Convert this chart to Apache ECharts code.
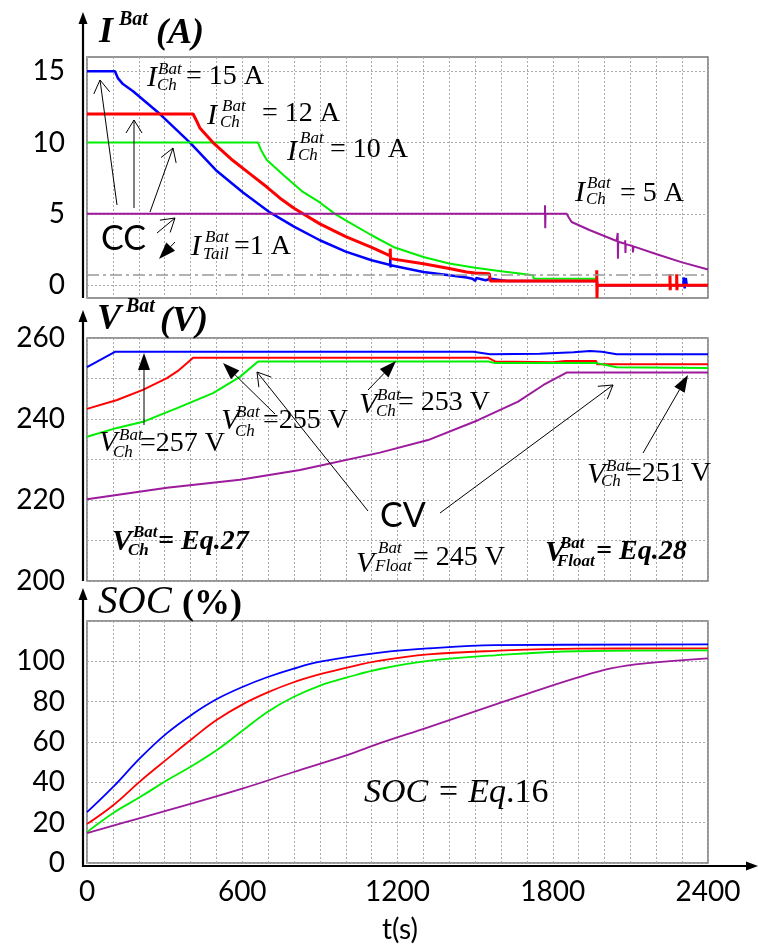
<!DOCTYPE html>
<html>
<head>
<meta charset="utf-8">
<title>Battery charging</title>
<script src="https://cdn.jsdelivr.net/npm/echarts@6.0.0/dist/echarts.min.js"></script>
<style>
  html, body { margin: 0; padding: 0; background: #fff; }
  #main { width: 758px; height: 949px; }
</style>
</head>
<body>
<div id="main"></div>
<script>
// time ticks (s)
var tTicks = [0, 600, 1200, 1800, 2400];

// battery current I (A), [t, value]
var iTicks = [0, 5, 10, 15];
var iTail = 0.7;
var iBlue = [[0,15],[108,15],[120,14.5],[139,14.1],[178,13.6],[282,12.0],[398,10.0],[502,8.0],[603,6.5],[707,5.1],[800,4.1],[900,3.15],[1000,2.35],[1100,1.75],[1172,1.42],[1172,1.86],[1173,1.24],[1174,1.4],[1300,0.93],[1400,0.7],[1467,0.54],[1490,0.45],[1500,0.3],[1505,0.5],[1540,0.35],[1560,0.45],[1600,0.35],[1625,0.3],[1971,0.3],[1972,0],[2305,0],[2306,0.54],[2310,-0.23],[2314,0.5],[2318,0],[2400,0]];
var iGreen = [[0,10],[661,10],[672,9.5],[694,8.8],[760,7.7],[830,6.6],[900,5.8],[958,5.0],[1000,4.55],[1100,3.5],[1184,2.68],[1300,1.98],[1400,1.52],[1500,1.22],[1600,0.98],[1672,0.82],[1724,0.7],[1726,0.47],[1970,0.45],[1970,0.9],[1971,0.02],[2400,0.02]];
var iRed = [[0,12],[410,12],[424,11.5],[437,11.0],[487,10.0],[564,8.74],[630,7.8],[694,6.9],[746,6.1],[800,5.4],[900,4.3],[1000,3.4],[1100,2.65],[1172,2.05],[1172,2.56],[1173,1.86],[1174,2.0],[1300,1.5],[1400,1.17],[1467,0.93],[1500,0.85],[1555,0.8],[1558,0.3],[1970,0.3],[1970,1.05],[1971,-0.9],[1972,0],[2253,0],[2253,0.77],[2254,-0.35],[2255,0],[2279,0],[2279,0.77],[2280,-0.35],[2281,0],[2400,0]];
var iPurple = [[0,5],[1770,5],[1770,5.6],[1771,4.0],[1772,5],[1854,5],[1862,4.75],[1873,4.43],[1944,3.85],[2047,3.1],[2051,3.1],[2051,3.66],[2052,1.86],[2053,3.05],[2080,2.9],[2080,3.15],[2081,2.26],[2082,2.88],[2109,2.75],[2109,2.87],[2110,2.3],[2112,2.72],[2202,2.17],[2300,1.6],[2400,1.1]];

// battery voltage V (V)
var vTicks = [200, 220, 240, 260];
var vBlue = [[0,252.8],[108,256.6],[1493,256.6],[1558,256.0],[1750,256.1],[1880,256.5],[1944,256.8],[1990,256.6],[2047,256.0],[2400,256.0]];
var vRed = [[0,242.5],[116,244.7],[216,247.2],[309,250.1],[350,251.8],[387,253.8],[410,255.1],[1551,255.1],[1577,254.2],[1800,254.0],[1850,254.3],[1968,254.3],[1970,254.6],[1971,253.5],[2400,253.5]];
var vGreen = [[0,235.6],[116,237.8],[216,239.3],[348,242.7],[487,246.4],[591,250.4],[661,254.2],[1551,254.2],[1577,253.8],[1970,253.8],[2047,252.8],[2400,252.6]];
var vPurple = [[0,220.2],[309,223],[591,225],[823,227.4],[1132,231.7],[1318,234.8],[1511,239.7],[1666,244.3],[1764,248.4],[1855,251.5],[2400,251.5]];

// state of charge (%)
var sTicks = [0, 20, 40, 60, 80, 100];
var sBlue = [[0,25.2],[100,37.6],[205,52],[309,64.4],[410,74],[502,81.3],[603,87.4],[696,92.1],[796,96.3],[901,99.8],[1132,104.3],[1318,106.4],[1577,108],[2400,108.4]];
var sRed = [[0,19.3],[100,28.5],[205,40.5],[309,51.5],[410,62],[502,71],[603,78.8],[696,84.5],[796,89.5],[901,93.6],[1005,96.9],[1132,100.3],[1318,103.4],[1577,105.2],[1898,106.3],[2400,106.4]];
var sGreen = [[0,15.3],[100,24.7],[205,32.7],[309,41],[410,48.5],[502,56],[603,65.8],[696,74.8],[796,82.2],[901,88],[1005,92],[1132,96.2],[1318,100.2],[1577,103],[1898,105],[2400,105.4]];
var sPurple = [[0,14.8],[205,22.3],[410,29.7],[603,37],[796,45],[1005,53.5],[1132,59.4],[1318,67.3],[1511,75.7],[1704,84],[1898,92],[2025,96.5],[2157,99],[2400,101.5]];

var cBlue = '#0000ff', cRed = '#ff0000', cGreen = '#00ee00', cPurple = '#9c1a9c';
var serif = '"Liberation Serif", "DejaVu Serif", serif';
var sans = 'Lato, "Noto Sans", sans-serif';

var chart = echarts.init(document.getElementById('main'));

var gridLine = { color: '#a8a8a8', type: [2, 2], width: 1 };
var lbl = { color: '#000', fontFamily: sans, fontSize: 28, formatter: function (v) { return String(v); } };

function xAx(idx, labels) {
    return {
        gridIndex: idx, type: 'value', min: 0, max: 2400, interval: 100,
        axisLine: { show: false }, axisTick: { show: false },
        axisLabel: labels ? Object.assign({ customValues: tTicks, margin: 15 }, lbl) : { show: false },
        splitLine: { show: true, lineStyle: gridLine }
    };
}

function yAx(idx, min, max, interval, ticks) {
    var ax = {
        gridIndex: idx, type: 'value', min: min, max: max,
        axisLine: { show: false },
        axisTick: { show: false },
        axisLabel: Object.assign({ margin: 22, customValues: ticks }, lbl),
        splitLine: { show: true, lineStyle: gridLine }
    };
    if (interval) ax.interval = interval;
    else ax.axisTick.customValues = ticks;
    return ax;
}

function line(name, data, color, width, xi) {
    return {
        name: name, type: 'line', data: data, xAxisIndex: xi, yAxisIndex: xi,
        showSymbol: false, symbol: 'none', smooth: false, silent: true,
        lineStyle: { color: color, width: width }, itemStyle: { color: color }
    };
}

function sline(name, data, color) {
    var s = line(name, data, color, 1.8, 2);
    s.smooth = 0.4;
    return s;
}

// annotation helpers (pixel positions)
var fonts = {
    m: 'italic 30px ' + serif,
    s: 'italic 17px ' + serif,
    r: '28px ' + serif,
    bm: 'bold italic 30px ' + serif,
    bs: 'bold italic 17px ' + serif,
    br: 'bold italic 28px ' + serif,
    tm: 'bold italic 36px ' + serif,
    ts: 'bold italic 20px ' + serif,
    ti: 'italic 39px ' + serif,
    tb: 'bold 36px ' + serif,
    cc: '34px ' + sans,
    ax: '28px ' + sans
};

function txt(x, y, s, f, align) {
    return {
        type: 'text', x: x, y: y, z: 100,
        style: { text: s, font: fonts[f], fill: '#000', align: align || 'left', verticalAlign: 'middle' }
    };
}

function arrow(x1, y1, x2, y2, filled) {
    var dx = x1 - x2, dy = y1 - y2, len = Math.sqrt(dx * dx + dy * dy);
    var ux = dx / len, uy = dy / len;
    var hl = filled ? 17 : 13, hw = filled ? 6 : 8;
    var bx = x2 + ux * hl, by = y2 + uy * hl;
    var w1 = [bx - uy * hw, by + ux * hw], w2 = [bx + uy * hw, by - ux * hw];
    var out = [{ type: 'line', z: 100, shape: { x1: x1, y1: y1, x2: filled ? bx : x2, y2: filled ? by : y2 }, style: { stroke: '#000', lineWidth: 1 } }];
    if (filled) out.push({ type: 'polygon', z: 100, shape: { points: [[x2, y2], w1, w2] }, style: { fill: '#000' } });
    else out.push({ type: 'polyline', z: 100, shape: { points: [w1, [x2, y2], w2] }, style: { stroke: '#000', lineWidth: 1, fill: null } });
    return out;
}

function axisArrow(x1, y1, x2, y2) {
    var dx = x2 - x1, dy = y2 - y1, len = Math.sqrt(dx * dx + dy * dy);
    var ux = dx / len, uy = dy / len;
    var bx = x2 - ux * 12, by = y2 - uy * 12;
    return [
        { type: 'line', z: 90, shape: { x1: x1, y1: y1, x2: bx, y2: by }, style: { stroke: '#000', lineWidth: 2.2 } },
        { type: 'polygon', z: 90, shape: { points: [[x2, y2], [bx - uy * 4.5, by + ux * 4.5], [bx + uy * 4.5, by - ux * 4.5]] }, style: { fill: '#000' } }
    ];
}

var labels = [
    // titles
    txt(99, 33, 'I', 'tm'), txt(119, 20, 'Bat', 'ts'), txt(156, 34, '(A)', 'tm'),
    txt(97, 320, 'V', 'tm'), txt(126, 307, 'Bat', 'ts'), txt(160, 322, '(V)', 'tm'),
    txt(98, 603, 'SOC', 'ti'), txt(182, 605, '(%)', 'tb'),
    // current panel
    txt(147, 78, 'I', 'm'), txt(158, 70, 'Bat', 's'), txt(157, 86, 'Ch', 's'), txt(186, 77, '= 15 A', 'r'),
    txt(207, 116, 'I', 'm'), txt(222, 107, 'Bat', 's'), txt(220, 123, 'Ch', 's'), txt(262, 114, '= 12 A', 'r'),
    txt(287, 152, 'I', 'm'), txt(300, 139, 'Bat', 's'), txt(298, 156, 'Ch', 's'), txt(330, 150, '= 10 A', 'r'),
    txt(575, 193, 'I', 'm'), txt(587, 184, 'Bat', 's'), txt(586, 200, 'Ch', 's'), txt(620, 194, '= 5 A', 'r'),
    txt(191, 247, 'I', 'm'), txt(205, 238, 'Bat', 's'), txt(203, 255, 'Tail', 's'), txt(234, 247, '=1 A', 'r'),
    txt(101, 239, 'CC', 'cc'),
    // voltage panel
    txt(99, 443, 'V', 'm'), txt(119, 436, 'Bat', 's'), txt(113, 453, 'Ch', 's'), txt(140, 444, '=257 V', 'r'),
    txt(221, 421, 'V', 'm'), txt(236, 413, 'Bat', 's'), txt(235, 432, 'Ch', 's'), txt(263, 421, '=255 V', 'r'),
    txt(359, 405, 'V', 'm'), txt(377, 396, 'Bat', 's'), txt(376, 412, 'Ch', 's'), txt(398, 403, '= 253 V', 'r'),
    txt(587, 475, 'V', 'm'), txt(606, 467, 'Bat', 's'), txt(601, 482, 'Ch', 's'), txt(626, 474, '=251 V', 'r'),
    txt(356, 564, 'V', 'm'), txt(378, 549, 'Bat', 's'), txt(375, 567, 'Float', 's'), txt(413, 558, '= 245 V', 'r'),
    txt(112, 542, 'V', 'bm'), txt(133, 533, 'Bat', 'bs'), txt(128, 551, 'Ch', 'bs'), txt(158, 542, '= Eq.27', 'br'),
    txt(545, 553, 'V', 'bm'), txt(560, 544, 'Bat', 'bs'), txt(557, 562, 'Float', 'bs'), txt(596, 552, '= Eq.28', 'br'),
    txt(380, 516, 'CV', 'cc'),
    // soc panel
    {
        type: 'text', x: 364, y: 793, z: 100,
        style: {
            text: '{i|SOC = Eq}{n|.16}', verticalAlign: 'middle', fill: '#000',
            rich: { i: { font: 'italic 34px ' + serif }, n: { font: '34px ' + serif } }
        }
    },
    txt(400, 930, 't(s)', 'ax', 'center')
];

var arrows = []
    .concat(arrow(117, 205, 100, 80, false))
    .concat(arrow(134, 208, 134, 120, false))
    .concat(arrow(150, 212, 173, 148, false))
    .concat(arrow(157, 233, 175, 218, false))
    .concat(arrow(175, 242, 159, 259, true))
    .concat(arrow(144, 425, 144, 353, true))
    .concat(arrow(275, 414, 223, 363, true))
    .concat(arrow(368, 390, 396, 361, true))
    .concat(arrow(643, 453, 688, 375, true))
    .concat(arrow(368, 511, 257, 372, false))
    .concat(arrow(440, 513, 613, 385, false))
    .concat(axisArrow(83, 298, 83, 12))
    .concat(axisArrow(83, 581, 83, 310))
    .concat(axisArrow(83, 867, 83, 588))
    .concat(axisArrow(82, 866, 758, 866));

var tail = line('I blue', iBlue, cBlue, 2.5, 0);
tail.markLine = {
    silent: true, symbol: 'none', label: { show: false },
    lineStyle: { color: '#999', type: [12, 4, 3, 4], width: 1.5 },
    data: [{ yAxis: iTail }]
};

var box = { show: true, borderColor: '#747474', borderWidth: 1.5, backgroundColor: 'transparent' };

var option = {
    animation: false,
    backgroundColor: '#fff',
    grid: [
        Object.assign({ left: 87, top: 57, width: 621, height: 241, outerBoundsMode: 'none' }, box),
        Object.assign({ left: 87, top: 338, width: 621, height: 243, outerBoundsMode: 'none' }, box),
        Object.assign({ left: 87, top: 621, width: 621, height: 242, outerBoundsMode: 'none' }, box)
    ],
    xAxis: [xAx(0, false), xAx(1, false), xAx(2, true)],
    yAxis: [
        yAx(0, -0.9, 16, null, iTicks),
        yAx(1, 200, 260, 10, vTicks),
        yAx(2, 0, 120, 20, sTicks)
    ],
    series: [
        tail,
        line('I green', iGreen, cGreen, 2, 0),
        line('I red', iRed, cRed, 3, 0),
        line('I purple', iPurple, cPurple, 2, 0),
        line('V blue', vBlue, cBlue, 2, 1),
        line('V red', vRed, cRed, 2, 1),
        line('V green', vGreen, cGreen, 2, 1),
        line('V purple', vPurple, cPurple, 2, 1),
        sline('SOC blue', sBlue, cBlue),
        sline('SOC red', sRed, cRed),
        sline('SOC green', sGreen, cGreen),
        sline('SOC purple', sPurple, cPurple)
    ],
    graphic: { elements: labels.concat(arrows) }
};

chart.setOption(option);
</script>
</body>
</html>
